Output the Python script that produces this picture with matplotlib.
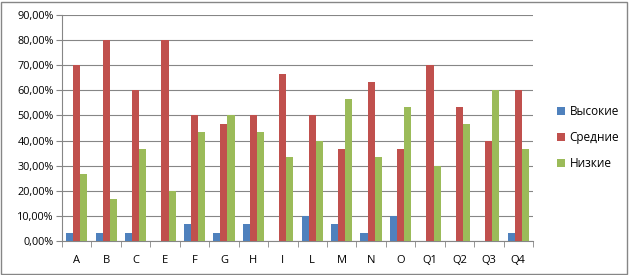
import matplotlib
matplotlib.use("Agg")
import matplotlib.pyplot as plt
import numpy as np
from matplotlib.ticker import FuncFormatter

categories = ["A", "B", "C", "E", "F", "G", "H", "I", "L", "M", "N", "O", "Q1", "Q2", "Q3", "Q4"]
high = [3.33, 3.33, 3.33, 0, 6.67, 3.33, 6.67, 0, 10, 6.67, 3.33, 10, 0, 0, 0, 3.33]
mid = [70, 80, 60, 80, 50, 46.67, 50, 66.67, 50, 36.67, 63.33, 36.67, 70, 53.33, 40, 60]
low = [26.67, 16.67, 36.67, 20, 43.33, 50, 43.33, 33.33, 40, 56.67, 33.33, 53.33, 30, 46.67, 60, 36.67]
series_names = ["Высокие", "Средние", "Низкие"]
colors = ["#4F81BD", "#C0504D", "#9BBB59"]

plt.rcParams['font.family'] = ['Open Sans', 'DejaVu Sans']
fig = plt.figure(figsize=(6.29, 2.75), dpi=100)
ax = fig.add_axes([62/629, 1 - 241/275, (533-62)/629, (241-15)/275])

x = np.arange(len(categories))
w = 0.24
for i, (vals, name, c) in enumerate(zip([high, mid, low], series_names, colors)):
    ax.bar(x + (i - 1) * w, vals, w, color=c, label=name, zorder=3)

ax.set_xlim(-0.5, len(categories) - 0.5)
ax.set_ylim(0, 90)
ax.set_yticks(np.arange(0, 91, 10))
ax.yaxis.set_major_formatter(FuncFormatter(lambda v, p: f"{v:.2f}%".replace(".", ",")))
ax.grid(axis="y", color="#868686", linewidth=0.8, zorder=0)
ax.set_xticks(x)
ax.set_xticklabels(categories)
ax.set_xticks(np.arange(-0.5, len(categories)), minor=True)
ax.tick_params(axis="x", which="major", length=0, pad=10, labelsize=8)
ax.tick_params(axis="x", which="minor", length=4, color="#868686", direction="out")
ax.tick_params(axis="y", length=4, color="#868686", labelsize=7.8, pad=2)
for s in ["top", "right"]:
    ax.spines[s].set_visible(False)
for s in ["left", "bottom"]:
    ax.spines[s].set_color("#868686")
    ax.spines[s].set_linewidth(0.8)

leg = ax.legend(loc="center left", bbox_to_anchor=(546/629, 0.5), bbox_transform=fig.transFigure,
                frameon=False, fontsize=8.5, handlelength=0.7, handleheight=0.7,
                handletextpad=0.4, labelspacing=1.1)

fig.patches.append(plt.Rectangle((0.002, 0.004), 0.995, 0.99, transform=fig.transFigure,
                                 fill=False, edgecolor="#868686", linewidth=1))
fig.savefig("out.png", dpi=100)
